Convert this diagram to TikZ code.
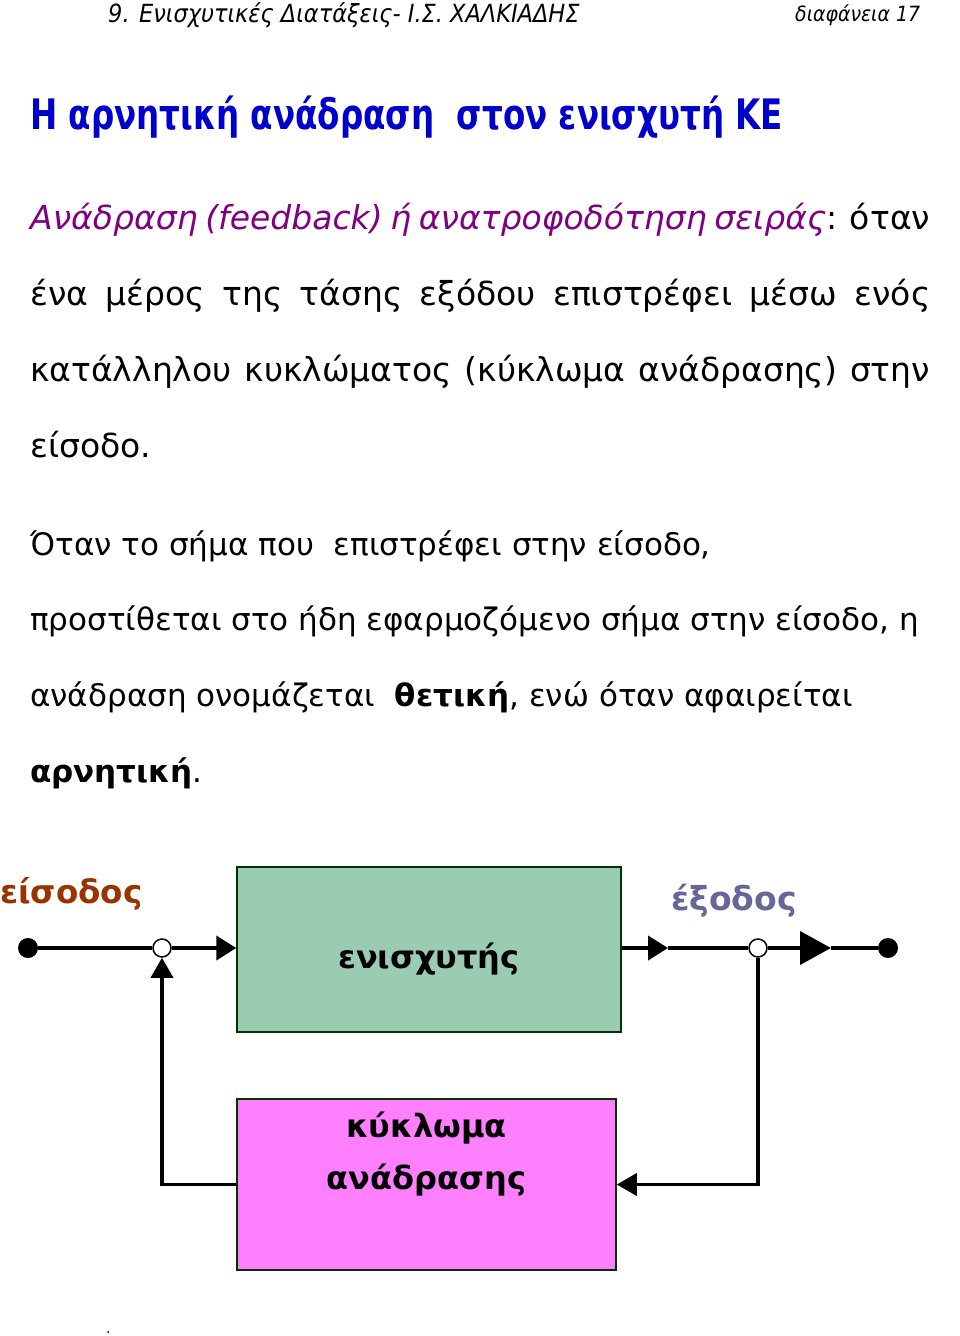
\documentclass[tikz,border=0pt]{standalone}
\usepackage{fontspec}
\setmainfont{DejaVu Sans}
\newfontfamily\headfont{DejaVu Sans Condensed}
\usetikzlibrary{arrows.meta}
\definecolor{titleblue}{HTML}{0000CC}
\definecolor{defpurple}{HTML}{800080}
\definecolor{inbrown}{HTML}{993300}
\definecolor{outslate}{HTML}{666699}
\definecolor{ampgreen}{HTML}{99CCB1}
\definecolor{fbpink}{HTML}{FF80FF}
\tikzstyle{txt} = [anchor=base west, inner sep=0pt]
\tikzstyle{block} = [rectangle, draw=black!80!green, line width=1.5pt, inner sep=0pt]
\tikzstyle{blocktext} = [inner sep=0pt, font=\bfseries\fontsize{32}{52}\selectfont, align=center]
\tikzstyle{wire} = [line width=4pt]
\tikzstyle{arrow} = [line width=4pt, -{Triangle[length=20pt,width=24pt]}]
\tikzstyle{fbarrow} = [line width=3.5pt, -{Triangle[length=20pt,width=22pt]}]
\tikzstyle{opendot} = [circle, draw, line width=1.5pt, fill=white, minimum size=18pt, inner sep=0pt]
\tikzstyle{terminal} = [circle, fill=black, minimum size=20pt, inner sep=0pt]

\begin{document}
\begin{tikzpicture}[x=1pt, y=-1pt]
\useasboundingbox (0,0) rectangle (960,1336);

% header
\node (head) [txt, font=\headfont\itshape\fontsize{25}{30}\selectfont] at (108,22) {9. Ενισχυτικές Διατάξεις- Ι.Σ. ΧΑΛΚΙΑΔΗΣ};
\node (slide) [txt, font=\headfont\itshape\fontsize{21}{26}\selectfont] at (795,21) {διαφάνεια 17};

% title
\node (title) [txt, text=titleblue, font=\bfseries\fontsize{42}{50}\selectfont] at (30,129) {\scalebox{0.775}[1]{Η αρνητική ανάδραση\ \ στον ενισχυτή ΚΕ}};

% definition
\node (def1) [txt, font=\fontsize{33}{40}\selectfont] at (30,229) {\makebox[900pt][s]{\textcolor{defpurple}{\itshape Ανάδραση (feedback) ή ανατροφοδότηση σειράς}: όταν}};
\node (def2) [txt, font=\fontsize{33}{40}\selectfont] at (30,305) {\makebox[900pt][s]{ένα μέρος της τάσης εξόδου επιστρέφει μέσω ενός}};
\node (def3) [txt, font=\fontsize{33}{40}\selectfont] at (30,381) {\makebox[900pt][s]{κατάλληλου κυκλώματος (κύκλωμα ανάδρασης) στην}};
\node (def4) [txt, font=\fontsize{33}{40}\selectfont] at (30,457) {είσοδο.};

% positive / negative
\node (par1) [txt, font=\fontsize{31}{36}\selectfont] at (30,555) {Όταν το σήμα που\ \ επιστρέφει στην είσοδο,};
\node (par2) [txt, font=\fontsize{31}{36}\selectfont] at (30,630) {προστίθεται στο ήδη εφαρμοζόμενο σήμα στην είσοδο, η};
\node (par3) [txt, font=\fontsize{31}{36}\selectfont] at (30,706) {ανάδραση ονομάζεται\ \ \textbf{θετική}, ενώ όταν αφαιρείται};
\node (par4) [txt, font=\fontsize{31}{36}\selectfont] at (30,782) {\textbf{αρνητική}.};

% block diagram
\node (inlbl) [txt, text=inbrown, font=\bfseries\fontsize{32.5}{40}\selectfont] at (0,903) {είσοδος};
\node (outlbl) [txt, text=outslate, font=\bfseries\fontsize{33}{40}\selectfont] at (671,910) {έξοδος};

\node (amp) [block, fill=ampgreen, minimum width=384pt, minimum height=165pt] at (429,949.5) {};
\node (amptext) [blocktext] at ([yshift=-10pt]amp.center) {ενισχυτής};
\node (fb) [block, fill=fbpink, minimum width=379pt, minimum height=171pt] at (426.5,1184.5) {};
\node (fbtext) [blocktext] at ([yshift=30pt]fb.center) {κύκλωμα\\ανάδρασης};

\node (in) [terminal] at (28,948) {};
\node (inc) [opendot] at (162,948) {};
\coordinate (mid) at (668,948);
\node (outc) [opendot] at (758,948) {};
\coordinate (big) at (831,948);
\node (out) [terminal] at (888,948) {};

\draw [wire] (in) -- (inc);
\draw [arrow] (inc) -- (amp.west |- inc);
\draw [arrow] (amp.east |- inc) -- (mid);
\draw [wire] (mid) -- (outc);
\draw [line width=4pt, -{Triangle[length=31pt,width=33pt]}] (outc) -- (big);
\draw [wire] (big) -- (out);

\draw [fbarrow] (outc) |- (fb.east);
\draw [fbarrow] (fb.west) -| (inc);

\node (dot) [txt, font=\fontsize{14}{16}\selectfont] at (106,1333) {.};

\end{tikzpicture}
\end{document}
